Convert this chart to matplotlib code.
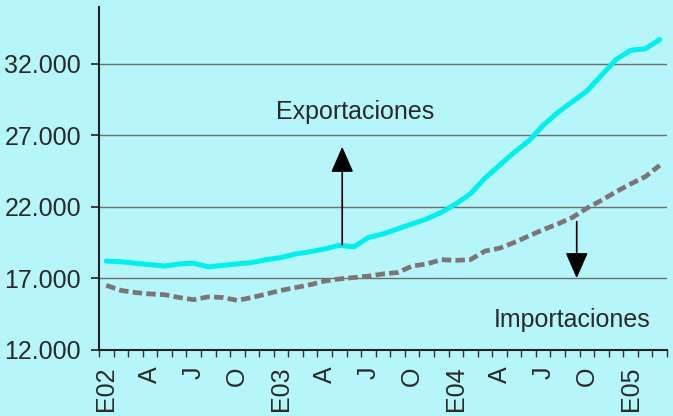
import matplotlib
matplotlib.use("Agg")
import matplotlib.pyplot as plt
from matplotlib.ticker import FuncFormatter

# monthly series, Jan 2002 .. Mar 2005
months = list(range(39))
month_labels = ["E02", "A", "J", "O", "E03", "A", "J", "O",
                "E04", "A", "J", "O", "E05"]
label_months = [0, 3, 6, 9, 12, 15, 18, 21, 24, 27, 30, 33, 36]

exportaciones = [18200, 18150, 18050, 17950, 17850, 18000, 18050, 17800,
                 17900, 18000, 18100, 18300, 18450, 18700, 18850, 19050,
                 19300, 19200, 19850, 20100, 20450, 20800, 21150, 21600,
                 22200, 22900, 24000, 24900, 25800, 26600, 27700, 28600,
                 29350, 30100, 31200, 32300, 32950, 33050, 33700]
importaciones = [16500, 16150, 16000, 15900, 15850, 15650, 15500, 15700,
                 15650, 15450, 15650, 15900, 16150, 16350, 16550, 16800,
                 16950, 17050, 17150, 17300, 17400, 17850, 18000, 18300,
                 18250, 18300, 18900, 19100, 19500, 19950, 20400, 20800,
                 21250, 21900, 22450, 23050, 23600, 24100, 24900]

y_ticks = [12000, 17000, 22000, 27000, 32000]

BG = "#b6f5f9"
CYAN = "#00f0f0"
GREY = "#7d7575"
TXT = "#2a2a2a"
FS = 18

plt.rcParams['font.family'] = ['Liberation Sans', 'DejaVu Sans']

fig = plt.figure(figsize=(6.73, 4.16), dpi=100, facecolor=BG)
ax = fig.add_axes([0.1471, 0.1594, 0.844, 0.8245])
ax.set_facecolor(BG)

for v in y_ticks[1:]:
    ax.axhline(v, color="#6e6e6e", lw=1.0, zorder=1)

ax.plot(months, exportaciones, color=CYAN, lw=3.6, solid_capstyle="round",
        solid_joinstyle="round", zorder=3)
ax.plot(months, importaciones, color=GREY, lw=3.4, dashes=(2.0, 0.9),
        zorder=3)

# arrows pointing to each series label
arrow_kw = dict(arrowstyle="-|>,head_length=1.6,head_width=0.7",
                color="black", lw=1.2, shrinkA=0, shrinkB=0)
ax.annotate("", xy=(16.2, 26200), xytext=(16.2, 19330), arrowprops=arrow_kw,
            zorder=4)
ax.annotate("", xy=(32.3, 17000), xytext=(32.3, 20960), arrowprops=arrow_kw,
            zorder=4)
ax.text(17.1, 28650, "Exportaciones", ha="center", va="center",
        fontsize=FS, color=TXT)
ax.text(32.0, 14100, "Importaciones", ha="center", va="center",
        fontsize=FS, color=TXT)

ax.set_xlim(-0.5, 38.5)
ax.set_ylim(12000, 36000)

for s in ["top", "right"]:
    ax.spines[s].set_visible(False)
for s in ["left", "bottom"]:
    ax.spines[s].set_linewidth(1.5)
    ax.spines[s].set_color("#222222")

ax.set_yticks(y_ticks)
ax.yaxis.set_major_formatter(FuncFormatter(lambda v, p: f"{int(v):,}".replace(",", ".")))
ax.tick_params(axis="y", direction="out", length=6, width=1.2, pad=7,
               labelsize=FS, labelcolor=TXT, color="#222222")

# tick marks between months, labels centred on the month
ax.set_xticks([m - 0.5 for m in months] + [38.5])
ax.set_xticklabels([])
ax.tick_params(axis="x", which="major", direction="out", length=5, width=1.0,
               color="#333333")
ax.set_xticks(label_months, minor=True)
ax.set_xticklabels(month_labels, minor=True, rotation=90)
ax.tick_params(axis="x", which="minor", length=0, pad=12, labelsize=FS,
               labelcolor=TXT)

fig.savefig("out.png", dpi=100, facecolor=BG)
